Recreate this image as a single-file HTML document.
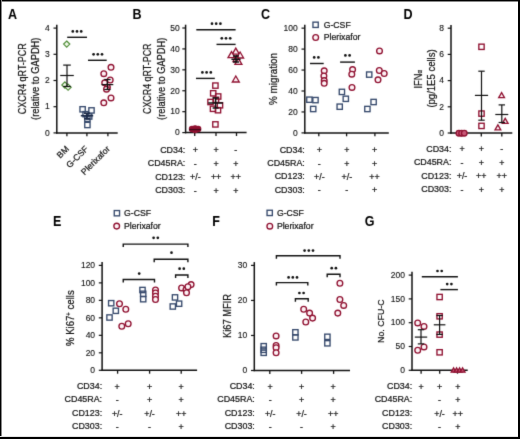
<!DOCTYPE html>
<html><head><meta charset="utf-8"><style>
html,body{margin:0;padding:0;background:#fff;}
svg{display:block;font-family:"Liberation Sans", sans-serif;will-change:transform;}
</style></head><body>
<svg width="520" height="439" viewBox="0 0 520 439">
<defs><filter id="soft" x="0" y="0" width="520" height="439" filterUnits="userSpaceOnUse" color-interpolation-filters="sRGB"><feConvolveMatrix order="3" kernelMatrix="0.01134 0.08382 0.01134 0.08382 0.61935 0.08382 0.01134 0.08382 0.01134" edgeMode="none"/></filter></defs>
<rect x="0" y="0" width="520" height="439" fill="#fff"/>
<g filter="url(#soft)">
<text transform="translate(7.89,18.70) scale(0.86,1)" font-size="14.6" font-weight="bold" fill="#000">A</text>
<line x1="56.80" y1="24.80" x2="56.80" y2="133.60" stroke="#111" stroke-width="1.5"/>
<line x1="53.50" y1="132.90" x2="56.80" y2="132.90" stroke="#111" stroke-width="1.2"/>
<text transform="translate(49.80,135.65) scale(1,1.0)" font-size="8.5" text-anchor="end" font-weight="normal" fill="#111" stroke="#111" stroke-width="0.12" >0</text>
<line x1="53.50" y1="106.70" x2="56.80" y2="106.70" stroke="#111" stroke-width="1.2"/>
<text transform="translate(49.80,109.45) scale(1,1.0)" font-size="8.5" text-anchor="end" font-weight="normal" fill="#111" stroke="#111" stroke-width="0.12" >1</text>
<line x1="53.50" y1="80.50" x2="56.80" y2="80.50" stroke="#111" stroke-width="1.2"/>
<text transform="translate(49.80,83.25) scale(1,1.0)" font-size="8.5" text-anchor="end" font-weight="normal" fill="#111" stroke="#111" stroke-width="0.12" >2</text>
<line x1="53.50" y1="54.30" x2="56.80" y2="54.30" stroke="#111" stroke-width="1.2"/>
<text transform="translate(49.80,57.05) scale(1,1.0)" font-size="8.5" text-anchor="end" font-weight="normal" fill="#111" stroke="#111" stroke-width="0.12" >3</text>
<line x1="53.50" y1="28.10" x2="56.80" y2="28.10" stroke="#111" stroke-width="1.2"/>
<text transform="translate(49.80,30.85) scale(1,1.0)" font-size="8.5" text-anchor="end" font-weight="normal" fill="#111" stroke="#111" stroke-width="0.12" >4</text>
<line x1="56.10" y1="132.90" x2="117.70" y2="132.90" stroke="#111" stroke-width="1.5"/>
<line x1="66.90" y1="132.90" x2="66.90" y2="136.30" stroke="#111" stroke-width="1.3"/>
<line x1="86.90" y1="132.90" x2="86.90" y2="136.30" stroke="#111" stroke-width="1.3"/>
<line x1="107.90" y1="132.90" x2="107.90" y2="136.30" stroke="#111" stroke-width="1.3"/>
<text transform="translate(26.20,114.25) scale(1,0.8790) rotate(-90)" font-size="10.2" fill="#111" stroke="#111" stroke-width="0.22">CXCR4 qRT-PCR</text>
<text transform="translate(39.00,119.88) scale(1,0.9331) rotate(-90)" font-size="10.0" fill="#111" stroke="#111" stroke-width="0.22">(relative to GAPDH)</text>
<text x="0" y="0" font-size="8.7" text-anchor="end" fill="#111" stroke="#111" stroke-width="0.22" transform="translate(69.5,149.5) rotate(-45)">BM</text>
<text x="0" y="0" font-size="8.7" text-anchor="end" fill="#111" stroke="#111" stroke-width="0.22" transform="translate(88.8,149.5) rotate(-45)">G-CSF</text>
<text x="0" y="0" font-size="8.7" text-anchor="end" fill="#111" stroke="#111" stroke-width="0.22" transform="translate(110.5,149.5) rotate(-45)">Plerixafor</text>
<line x1="67.20" y1="37.30" x2="87.00" y2="37.30" stroke="#111" stroke-width="1.4"/>
<circle cx="72.80" cy="31.40" r="1.35" fill="#111"/>
<circle cx="77.00" cy="31.40" r="1.35" fill="#111"/>
<circle cx="81.20" cy="31.40" r="1.35" fill="#111"/>
<line x1="88.00" y1="60.30" x2="106.70" y2="60.30" stroke="#111" stroke-width="1.4"/>
<circle cx="93.60" cy="54.30" r="1.35" fill="#111"/>
<circle cx="97.80" cy="54.30" r="1.35" fill="#111"/>
<circle cx="102.00" cy="54.30" r="1.35" fill="#111"/>
<polygon points="66.7,41.0 69.8,44.1 66.7,47.2 63.6,44.1" fill="#eef8e6" stroke="#4f8c38" stroke-width="1.15"/>
<polygon points="64.9,81.9 68.0,85.0 64.9,88.1 61.800000000000004,85.0" fill="#eef8e6" stroke="#4f8c38" stroke-width="1.15"/>
<polygon points="68.1,84.10000000000001 71.19999999999999,87.2 68.1,90.3 65.0,87.2" fill="#eef8e6" stroke="#4f8c38" stroke-width="1.15"/>
<line x1="60.20" y1="75.50" x2="73.80" y2="75.50" stroke="#111" stroke-width="1.2"/>
<line x1="67.00" y1="65.10" x2="67.00" y2="86.50" stroke="#111" stroke-width="1.2"/>
<line x1="63.20" y1="65.10" x2="70.80" y2="65.10" stroke="#111" stroke-width="1.2"/>
<line x1="63.20" y1="86.50" x2="70.80" y2="86.50" stroke="#111" stroke-width="1.2"/>
<rect x="79.95" y="106.65" width="5.3" height="5.3" fill="none" stroke="#36496c" stroke-width="1.35"/>
<rect x="88.85" y="107.75" width="5.3" height="5.3" fill="none" stroke="#36496c" stroke-width="1.35"/>
<rect x="82.95" y="111.55" width="5.3" height="5.3" fill="none" stroke="#36496c" stroke-width="1.35"/>
<rect x="86.55" y="113.85" width="5.3" height="5.3" fill="none" stroke="#36496c" stroke-width="1.35"/>
<rect x="84.75" y="116.15" width="5.3" height="5.3" fill="none" stroke="#36496c" stroke-width="1.35"/>
<rect x="84.75" y="122.35" width="5.3" height="5.3" fill="none" stroke="#36496c" stroke-width="1.35"/>
<line x1="80.80" y1="115.70" x2="93.20" y2="115.70" stroke="#1c2a48" stroke-width="1.6"/>
<line x1="87.00" y1="113.20" x2="87.00" y2="118.80" stroke="#1c2a48" stroke-width="1.6"/>
<line x1="84.00" y1="113.20" x2="90.00" y2="113.20" stroke="#1c2a48" stroke-width="1.6"/>
<line x1="84.00" y1="118.80" x2="90.00" y2="118.80" stroke="#1c2a48" stroke-width="1.6"/>
<circle cx="111" cy="67.3" r="2.85" fill="#fdf2f5" stroke="#8f1030" stroke-width="1.35"/>
<circle cx="103.8" cy="73.7" r="2.85" fill="#fdf2f5" stroke="#8f1030" stroke-width="1.35"/>
<circle cx="110.2" cy="80.0" r="2.85" fill="#fdf2f5" stroke="#8f1030" stroke-width="1.35"/>
<circle cx="104.7" cy="82.8" r="2.85" fill="#fdf2f5" stroke="#8f1030" stroke-width="1.35"/>
<circle cx="107.4" cy="87.3" r="2.85" fill="#fdf2f5" stroke="#8f1030" stroke-width="1.35"/>
<circle cx="106.5" cy="89.2" r="2.85" fill="#fdf2f5" stroke="#8f1030" stroke-width="1.35"/>
<circle cx="111" cy="97.9" r="2.85" fill="#fdf2f5" stroke="#8f1030" stroke-width="1.35"/>
<circle cx="103.8" cy="102.8" r="2.85" fill="#fdf2f5" stroke="#8f1030" stroke-width="1.35"/>
<line x1="101.50" y1="84.60" x2="113.30" y2="84.60" stroke="#111" stroke-width="1.2"/>
<line x1="107.40" y1="79.50" x2="107.40" y2="89.50" stroke="#111" stroke-width="1.2"/>
<line x1="104.20" y1="79.50" x2="110.60" y2="79.50" stroke="#111" stroke-width="1.2"/>
<line x1="104.20" y1="89.50" x2="110.60" y2="89.50" stroke="#111" stroke-width="1.2"/>
<text transform="translate(132.45,18.70) scale(0.86,1)" font-size="14.6" font-weight="bold" fill="#000">B</text>
<line x1="185.60" y1="24.70" x2="185.60" y2="133.30" stroke="#111" stroke-width="1.5"/>
<line x1="182.30" y1="132.60" x2="185.60" y2="132.60" stroke="#111" stroke-width="1.2"/>
<text transform="translate(179.80,135.35) scale(1,1.0)" font-size="8.5" text-anchor="end" font-weight="normal" fill="#111" stroke="#111" stroke-width="0.12" >0</text>
<line x1="182.30" y1="111.68" x2="185.60" y2="111.68" stroke="#111" stroke-width="1.2"/>
<text transform="translate(179.80,114.43) scale(1,1.0)" font-size="8.5" text-anchor="end" font-weight="normal" fill="#111" stroke="#111" stroke-width="0.12" >10</text>
<line x1="182.30" y1="90.76" x2="185.60" y2="90.76" stroke="#111" stroke-width="1.2"/>
<text transform="translate(179.80,93.51) scale(1,1.0)" font-size="8.5" text-anchor="end" font-weight="normal" fill="#111" stroke="#111" stroke-width="0.12" >20</text>
<line x1="182.30" y1="69.84" x2="185.60" y2="69.84" stroke="#111" stroke-width="1.2"/>
<text transform="translate(179.80,72.59) scale(1,1.0)" font-size="8.5" text-anchor="end" font-weight="normal" fill="#111" stroke="#111" stroke-width="0.12" >30</text>
<line x1="182.30" y1="48.92" x2="185.60" y2="48.92" stroke="#111" stroke-width="1.2"/>
<text transform="translate(179.80,51.67) scale(1,1.0)" font-size="8.5" text-anchor="end" font-weight="normal" fill="#111" stroke="#111" stroke-width="0.12" >40</text>
<line x1="182.30" y1="28.00" x2="185.60" y2="28.00" stroke="#111" stroke-width="1.2"/>
<text transform="translate(179.80,30.75) scale(1,1.0)" font-size="8.5" text-anchor="end" font-weight="normal" fill="#111" stroke="#111" stroke-width="0.12" >50</text>
<line x1="184.90" y1="132.60" x2="246.60" y2="132.60" stroke="#111" stroke-width="1.5"/>
<line x1="194.70" y1="132.60" x2="194.70" y2="136.00" stroke="#111" stroke-width="1.3"/>
<line x1="216.00" y1="132.60" x2="216.00" y2="136.00" stroke="#111" stroke-width="1.3"/>
<line x1="236.50" y1="132.60" x2="236.50" y2="136.00" stroke="#111" stroke-width="1.3"/>
<text transform="translate(150.60,114.05) scale(1,0.8740) rotate(-90)" font-size="10.2" fill="#111" stroke="#111" stroke-width="0.22">CXCR4 qRT-PCR</text>
<text transform="translate(164.50,119.88) scale(1,0.9308) rotate(-90)" font-size="10.0" fill="#111" stroke="#111" stroke-width="0.22">(relative to GAPDH)</text>
<line x1="196.30" y1="29.80" x2="235.60" y2="29.80" stroke="#111" stroke-width="1.4"/>
<circle cx="212.00" cy="23.70" r="1.35" fill="#111"/>
<circle cx="216.20" cy="23.70" r="1.35" fill="#111"/>
<circle cx="220.40" cy="23.70" r="1.35" fill="#111"/>
<line x1="216.50" y1="44.40" x2="235.60" y2="44.40" stroke="#111" stroke-width="1.4"/>
<circle cx="221.80" cy="38.30" r="1.35" fill="#111"/>
<circle cx="226.00" cy="38.30" r="1.35" fill="#111"/>
<circle cx="230.20" cy="38.30" r="1.35" fill="#111"/>
<line x1="196.00" y1="78.40" x2="214.80" y2="78.40" stroke="#111" stroke-width="1.4"/>
<circle cx="202.40" cy="72.40" r="1.35" fill="#111"/>
<circle cx="206.60" cy="72.40" r="1.35" fill="#111"/>
<circle cx="210.80" cy="72.40" r="1.35" fill="#111"/>
<circle cx="192.0" cy="129.0" r="2.6" fill="#8f1030" stroke="#8f1030" stroke-width="1.2"/>
<circle cx="198.2" cy="129.0" r="2.6" fill="#8f1030" stroke="#8f1030" stroke-width="1.2"/>
<circle cx="195.1" cy="128.4" r="2.6" fill="#8f1030" stroke="#8f1030" stroke-width="1.2"/>
<circle cx="195.1" cy="130.0" r="2.6" fill="#8f1030" stroke="#8f1030" stroke-width="1.2"/>
<line x1="189.00" y1="129.60" x2="201.00" y2="129.60" stroke="#400818" stroke-width="1.3"/>
<rect x="212.75" y="82.95" width="5.3" height="5.3" fill="none" stroke="#8f1030" stroke-width="1.35"/>
<rect x="210.55" y="90.65" width="5.3" height="5.3" fill="none" stroke="#8f1030" stroke-width="1.35"/>
<rect x="215.55" y="93.85" width="5.3" height="5.3" fill="none" stroke="#8f1030" stroke-width="1.35"/>
<rect x="213.35" y="97.15" width="5.3" height="5.3" fill="none" stroke="#8f1030" stroke-width="1.35"/>
<rect x="207.85" y="99.35" width="5.3" height="5.3" fill="none" stroke="#8f1030" stroke-width="1.35"/>
<rect x="217.35" y="102.65" width="5.3" height="5.3" fill="none" stroke="#8f1030" stroke-width="1.35"/>
<rect x="210.35" y="106.15" width="5.3" height="5.3" fill="none" stroke="#8f1030" stroke-width="1.35"/>
<rect x="215.35" y="107.55" width="5.3" height="5.3" fill="none" stroke="#8f1030" stroke-width="1.35"/>
<rect x="212.75" y="121.75" width="5.3" height="5.3" fill="none" stroke="#8f1030" stroke-width="1.35"/>
<line x1="208.20" y1="103.00" x2="223.00" y2="103.00" stroke="#111" stroke-width="1.5"/>
<line x1="215.60" y1="98.00" x2="215.60" y2="108.00" stroke="#111" stroke-width="1.5"/>
<line x1="212.60" y1="98.00" x2="218.60" y2="98.00" stroke="#111" stroke-width="1.5"/>
<line x1="212.60" y1="108.00" x2="218.60" y2="108.00" stroke="#111" stroke-width="1.5"/>
<polygon points="235.80,48.16 239.30,54.22 232.30,54.22" fill="#fdf2f5" stroke="#8f1030" stroke-width="1.3" stroke-linejoin="miter"/>
<polygon points="231.50,51.56 235.00,57.62 228.00,57.62" fill="#fdf2f5" stroke="#8f1030" stroke-width="1.3" stroke-linejoin="miter"/>
<polygon points="240.10,51.96 243.60,58.02 236.60,58.02" fill="#fdf2f5" stroke="#8f1030" stroke-width="1.3" stroke-linejoin="miter"/>
<polygon points="236.50,55.66 240.00,61.72 233.00,61.72" fill="#fdf2f5" stroke="#8f1030" stroke-width="1.3" stroke-linejoin="miter"/>
<polygon points="238.40,58.36 241.90,64.42 234.90,64.42" fill="#fdf2f5" stroke="#8f1030" stroke-width="1.3" stroke-linejoin="miter"/>
<polygon points="235.80,75.96 239.30,82.02 232.30,82.02" fill="#fdf2f5" stroke="#8f1030" stroke-width="1.3" stroke-linejoin="miter"/>
<line x1="231.40" y1="59.30" x2="240.60" y2="59.30" stroke="#111" stroke-width="1.5"/>
<line x1="236.00" y1="56.00" x2="236.00" y2="62.00" stroke="#111" stroke-width="1.5"/>
<line x1="233.00" y1="56.00" x2="239.00" y2="56.00" stroke="#111" stroke-width="1.5"/>
<line x1="233.00" y1="62.00" x2="239.00" y2="62.00" stroke="#111" stroke-width="1.5"/>
<text transform="translate(185.30,152.60) scale(1,1.0)" font-size="8.9" text-anchor="end" font-weight="normal" fill="#111" stroke="#111" stroke-width="0.22" >CD34:</text>
<text transform="translate(195.30,153.30) scale(1,1.0)" font-size="8.9" text-anchor="middle" font-weight="normal" fill="#111" stroke="#111" stroke-width="0.22" >+</text>
<text transform="translate(216.10,153.30) scale(1,1.0)" font-size="8.9" text-anchor="middle" font-weight="normal" fill="#111" stroke="#111" stroke-width="0.22" >+</text>
<text transform="translate(235.80,153.30) scale(1,1.0)" font-size="8.9" text-anchor="middle" font-weight="normal" fill="#111" stroke="#111" stroke-width="0.22" >-</text>
<text transform="translate(185.30,166.20) scale(1,1.0)" font-size="8.9" text-anchor="end" font-weight="normal" fill="#111" stroke="#111" stroke-width="0.22" >CD45RA:</text>
<text transform="translate(195.30,166.90) scale(1,1.0)" font-size="8.9" text-anchor="middle" font-weight="normal" fill="#111" stroke="#111" stroke-width="0.22" >-</text>
<text transform="translate(216.10,166.90) scale(1,1.0)" font-size="8.9" text-anchor="middle" font-weight="normal" fill="#111" stroke="#111" stroke-width="0.22" >+</text>
<text transform="translate(235.80,166.90) scale(1,1.0)" font-size="8.9" text-anchor="middle" font-weight="normal" fill="#111" stroke="#111" stroke-width="0.22" >+</text>
<text transform="translate(185.30,179.60) scale(1,1.0)" font-size="8.9" text-anchor="end" font-weight="normal" fill="#111" stroke="#111" stroke-width="0.22" >CD123:</text>
<text transform="translate(195.30,180.30) scale(1,1.0)" font-size="8.9" text-anchor="middle" font-weight="normal" fill="#111" stroke="#111" stroke-width="0.22" >+/-</text>
<text transform="translate(216.10,180.30) scale(1,1.0)" font-size="8.9" text-anchor="middle" font-weight="normal" fill="#111" stroke="#111" stroke-width="0.22" >++</text>
<text transform="translate(235.80,180.30) scale(1,1.0)" font-size="8.9" text-anchor="middle" font-weight="normal" fill="#111" stroke="#111" stroke-width="0.22" >++</text>
<text transform="translate(185.30,192.80) scale(1,1.0)" font-size="8.9" text-anchor="end" font-weight="normal" fill="#111" stroke="#111" stroke-width="0.22" >CD303:</text>
<text transform="translate(195.30,193.50) scale(1,1.0)" font-size="8.9" text-anchor="middle" font-weight="normal" fill="#111" stroke="#111" stroke-width="0.22" >-</text>
<text transform="translate(216.10,193.50) scale(1,1.0)" font-size="8.9" text-anchor="middle" font-weight="normal" fill="#111" stroke="#111" stroke-width="0.22" >+</text>
<text transform="translate(235.80,193.50) scale(1,1.0)" font-size="8.9" text-anchor="middle" font-weight="normal" fill="#111" stroke="#111" stroke-width="0.22" >+</text>
<text transform="translate(261.10,18.70) scale(0.86,1)" font-size="14.6" font-weight="bold" fill="#000">C</text>
<line x1="304.80" y1="24.85" x2="304.80" y2="133.60" stroke="#111" stroke-width="1.5"/>
<line x1="301.50" y1="132.90" x2="304.80" y2="132.90" stroke="#111" stroke-width="1.2"/>
<text transform="translate(297.80,135.65) scale(1,1.0)" font-size="8.5" text-anchor="end" font-weight="normal" fill="#111" stroke="#111" stroke-width="0.12" >0</text>
<line x1="301.50" y1="111.95" x2="304.80" y2="111.95" stroke="#111" stroke-width="1.2"/>
<text transform="translate(297.80,114.70) scale(1,1.0)" font-size="8.5" text-anchor="end" font-weight="normal" fill="#111" stroke="#111" stroke-width="0.12" >20</text>
<line x1="301.50" y1="91.00" x2="304.80" y2="91.00" stroke="#111" stroke-width="1.2"/>
<text transform="translate(297.80,93.75) scale(1,1.0)" font-size="8.5" text-anchor="end" font-weight="normal" fill="#111" stroke="#111" stroke-width="0.12" >40</text>
<line x1="301.50" y1="70.05" x2="304.80" y2="70.05" stroke="#111" stroke-width="1.2"/>
<text transform="translate(297.80,72.80) scale(1,1.0)" font-size="8.5" text-anchor="end" font-weight="normal" fill="#111" stroke="#111" stroke-width="0.12" >60</text>
<line x1="301.50" y1="49.10" x2="304.80" y2="49.10" stroke="#111" stroke-width="1.2"/>
<text transform="translate(297.80,51.85) scale(1,1.0)" font-size="8.5" text-anchor="end" font-weight="normal" fill="#111" stroke="#111" stroke-width="0.12" >80</text>
<line x1="301.50" y1="28.15" x2="304.80" y2="28.15" stroke="#111" stroke-width="1.2"/>
<text transform="translate(297.80,30.90) scale(1,1.0)" font-size="8.5" text-anchor="end" font-weight="normal" fill="#111" stroke="#111" stroke-width="0.12" >100</text>
<line x1="304.10" y1="132.90" x2="388.80" y2="132.90" stroke="#111" stroke-width="1.5"/>
<line x1="318.80" y1="132.90" x2="318.80" y2="136.30" stroke="#111" stroke-width="1.3"/>
<line x1="346.60" y1="132.90" x2="346.60" y2="136.30" stroke="#111" stroke-width="1.3"/>
<line x1="374.90" y1="132.90" x2="374.90" y2="136.30" stroke="#111" stroke-width="1.3"/>
<text transform="translate(277.20,104.95) scale(1,0.9667) rotate(-90)" font-size="10.2" fill="#111" stroke="#111" stroke-width="0.22">% migration</text>
<rect x="312.95" y="22.15" width="5.3" height="5.3" fill="none" stroke="#36496c" stroke-width="1.35"/>
<text transform="translate(323.70,27.80) scale(1,1.0)" font-size="8.7" text-anchor="start" font-weight="normal" fill="#111" stroke="#111" stroke-width="0.22" >G-CSF</text>
<circle cx="315.7" cy="37.5" r="2.85" fill="#fdf2f5" stroke="#8f1030" stroke-width="1.35"/>
<text transform="translate(323.70,39.80) scale(1,1.0)" font-size="8.7" text-anchor="start" font-weight="normal" fill="#111" stroke="#111" stroke-width="0.22" >Plerixafor</text>
<line x1="310.00" y1="63.50" x2="323.70" y2="63.50" stroke="#111" stroke-width="1.4"/>
<circle cx="314.20" cy="57.40" r="1.35" fill="#111"/>
<circle cx="318.40" cy="57.40" r="1.35" fill="#111"/>
<line x1="340.10" y1="62.10" x2="354.90" y2="62.10" stroke="#111" stroke-width="1.4"/>
<circle cx="345.40" cy="55.40" r="1.35" fill="#111"/>
<circle cx="349.60" cy="55.40" r="1.35" fill="#111"/>
<rect x="306.75" y="97.05" width="5.3" height="5.3" fill="none" stroke="#36496c" stroke-width="1.35"/>
<rect x="312.85" y="97.45" width="5.3" height="5.3" fill="none" stroke="#36496c" stroke-width="1.35"/>
<rect x="310.55" y="106.35" width="5.3" height="5.3" fill="none" stroke="#36496c" stroke-width="1.35"/>
<circle cx="324.2" cy="70.8" r="2.85" fill="#fdf2f5" stroke="#8f1030" stroke-width="1.35"/>
<circle cx="323.9" cy="76" r="2.85" fill="#fdf2f5" stroke="#8f1030" stroke-width="1.35"/>
<circle cx="324.2" cy="80.6" r="2.85" fill="#fdf2f5" stroke="#8f1030" stroke-width="1.35"/>
<circle cx="324.2" cy="83.3" r="2.85" fill="#fdf2f5" stroke="#8f1030" stroke-width="1.35"/>
<rect x="339.25" y="89.25" width="5.3" height="5.3" fill="none" stroke="#36496c" stroke-width="1.35"/>
<rect x="343.15" y="96.15" width="5.3" height="5.3" fill="none" stroke="#36496c" stroke-width="1.35"/>
<rect x="337.05" y="104.05" width="5.3" height="5.3" fill="none" stroke="#36496c" stroke-width="1.35"/>
<circle cx="352.6" cy="69.6" r="2.85" fill="#fdf2f5" stroke="#8f1030" stroke-width="1.35"/>
<circle cx="351.8" cy="74.2" r="2.85" fill="#fdf2f5" stroke="#8f1030" stroke-width="1.35"/>
<circle cx="352" cy="87.4" r="2.85" fill="#fdf2f5" stroke="#8f1030" stroke-width="1.35"/>
<rect x="366.55" y="71.95" width="5.3" height="5.3" fill="none" stroke="#36496c" stroke-width="1.35"/>
<rect x="370.95" y="99.35" width="5.3" height="5.3" fill="none" stroke="#36496c" stroke-width="1.35"/>
<rect x="364.75" y="106.35" width="5.3" height="5.3" fill="none" stroke="#36496c" stroke-width="1.35"/>
<circle cx="379.5" cy="50.9" r="2.85" fill="#fdf2f5" stroke="#8f1030" stroke-width="1.35"/>
<circle cx="379.3" cy="70.5" r="2.85" fill="#fdf2f5" stroke="#8f1030" stroke-width="1.35"/>
<circle cx="384.2" cy="73.5" r="2.85" fill="#fdf2f5" stroke="#8f1030" stroke-width="1.35"/>
<circle cx="378" cy="79.8" r="2.85" fill="#fdf2f5" stroke="#8f1030" stroke-width="1.35"/>
<text transform="translate(304.80,152.60) scale(1,1.0)" font-size="8.9" text-anchor="end" font-weight="normal" fill="#111" stroke="#111" stroke-width="0.22" >CD34:</text>
<text transform="translate(319.30,153.30) scale(1,1.0)" font-size="8.9" text-anchor="middle" font-weight="normal" fill="#111" stroke="#111" stroke-width="0.22" >+</text>
<text transform="translate(346.80,153.30) scale(1,1.0)" font-size="8.9" text-anchor="middle" font-weight="normal" fill="#111" stroke="#111" stroke-width="0.22" >+</text>
<text transform="translate(374.50,153.30) scale(1,1.0)" font-size="8.9" text-anchor="middle" font-weight="normal" fill="#111" stroke="#111" stroke-width="0.22" >+</text>
<text transform="translate(304.80,166.20) scale(1,1.0)" font-size="8.9" text-anchor="end" font-weight="normal" fill="#111" stroke="#111" stroke-width="0.22" >CD45RA:</text>
<text transform="translate(319.30,166.90) scale(1,1.0)" font-size="8.9" text-anchor="middle" font-weight="normal" fill="#111" stroke="#111" stroke-width="0.22" >-</text>
<text transform="translate(346.80,166.90) scale(1,1.0)" font-size="8.9" text-anchor="middle" font-weight="normal" fill="#111" stroke="#111" stroke-width="0.22" >+</text>
<text transform="translate(374.50,166.90) scale(1,1.0)" font-size="8.9" text-anchor="middle" font-weight="normal" fill="#111" stroke="#111" stroke-width="0.22" >+</text>
<text transform="translate(304.80,179.40) scale(1,1.0)" font-size="8.9" text-anchor="end" font-weight="normal" fill="#111" stroke="#111" stroke-width="0.22" >CD123:</text>
<text transform="translate(319.30,180.10) scale(1,1.0)" font-size="8.9" text-anchor="middle" font-weight="normal" fill="#111" stroke="#111" stroke-width="0.22" >+/-</text>
<text transform="translate(346.80,180.10) scale(1,1.0)" font-size="8.9" text-anchor="middle" font-weight="normal" fill="#111" stroke="#111" stroke-width="0.22" >+/-</text>
<text transform="translate(374.50,180.10) scale(1,1.0)" font-size="8.9" text-anchor="middle" font-weight="normal" fill="#111" stroke="#111" stroke-width="0.22" >++</text>
<text transform="translate(304.80,192.60) scale(1,1.0)" font-size="8.9" text-anchor="end" font-weight="normal" fill="#111" stroke="#111" stroke-width="0.22" >CD303:</text>
<text transform="translate(319.30,193.30) scale(1,1.0)" font-size="8.9" text-anchor="middle" font-weight="normal" fill="#111" stroke="#111" stroke-width="0.22" >-</text>
<text transform="translate(346.80,193.30) scale(1,1.0)" font-size="8.9" text-anchor="middle" font-weight="normal" fill="#111" stroke="#111" stroke-width="0.22" >-</text>
<text transform="translate(374.50,193.30) scale(1,1.0)" font-size="8.9" text-anchor="middle" font-weight="normal" fill="#111" stroke="#111" stroke-width="0.22" >+</text>
<text transform="translate(403.45,18.70) scale(0.86,1)" font-size="14.6" font-weight="bold" fill="#000">D</text>
<line x1="451.00" y1="24.90" x2="451.00" y2="133.70" stroke="#111" stroke-width="1.5"/>
<line x1="447.70" y1="133.00" x2="451.00" y2="133.00" stroke="#111" stroke-width="1.2"/>
<text transform="translate(444.00,135.75) scale(1,1.0)" font-size="8.5" text-anchor="end" font-weight="normal" fill="#111" stroke="#111" stroke-width="0.12" >0</text>
<line x1="447.70" y1="106.80" x2="451.00" y2="106.80" stroke="#111" stroke-width="1.2"/>
<text transform="translate(444.00,109.55) scale(1,1.0)" font-size="8.5" text-anchor="end" font-weight="normal" fill="#111" stroke="#111" stroke-width="0.12" >2</text>
<line x1="447.70" y1="80.60" x2="451.00" y2="80.60" stroke="#111" stroke-width="1.2"/>
<text transform="translate(444.00,83.35) scale(1,1.0)" font-size="8.5" text-anchor="end" font-weight="normal" fill="#111" stroke="#111" stroke-width="0.12" >4</text>
<line x1="447.70" y1="54.40" x2="451.00" y2="54.40" stroke="#111" stroke-width="1.2"/>
<text transform="translate(444.00,57.15) scale(1,1.0)" font-size="8.5" text-anchor="end" font-weight="normal" fill="#111" stroke="#111" stroke-width="0.12" >6</text>
<line x1="447.70" y1="28.20" x2="451.00" y2="28.20" stroke="#111" stroke-width="1.2"/>
<text transform="translate(444.00,30.95) scale(1,1.0)" font-size="8.5" text-anchor="end" font-weight="normal" fill="#111" stroke="#111" stroke-width="0.12" >8</text>
<line x1="450.30" y1="133.00" x2="512.30" y2="133.00" stroke="#111" stroke-width="1.5"/>
<line x1="461.50" y1="133.00" x2="461.50" y2="136.40" stroke="#111" stroke-width="1.3"/>
<line x1="481.30" y1="133.00" x2="481.30" y2="136.40" stroke="#111" stroke-width="1.3"/>
<line x1="501.80" y1="133.00" x2="501.80" y2="136.40" stroke="#111" stroke-width="1.3"/>
<text transform="translate(421.80,88.46) scale(1,0.8582) rotate(-90)" font-size="10.8" fill="#111" stroke="#111" stroke-width="0.22">IFN<tspan font-size="7" dy="0.6">α</tspan></text>
<text transform="translate(434.60,107.60) scale(1,0.9346) rotate(-90)" font-size="10.2" fill="#111" stroke="#111" stroke-width="0.22">(pg/1E5 cells)</text>
<circle cx="458.9" cy="133.2" r="2.8" fill="#c85878" stroke="#8f1030" stroke-width="1.3"/>
<circle cx="461.6" cy="133.2" r="2.8" fill="#c85878" stroke="#8f1030" stroke-width="1.3"/>
<circle cx="464.3" cy="133.2" r="2.8" fill="#c85878" stroke="#8f1030" stroke-width="1.3"/>
<rect x="478.85" y="44.15" width="5.3" height="5.3" fill="none" stroke="#8f1030" stroke-width="1.35"/>
<rect x="478.85" y="110.95" width="5.3" height="5.3" fill="none" stroke="#8f1030" stroke-width="1.35"/>
<rect x="478.85" y="123.25" width="5.3" height="5.3" fill="none" stroke="#8f1030" stroke-width="1.35"/>
<line x1="474.90" y1="95.40" x2="488.10" y2="95.40" stroke="#111" stroke-width="1.2"/>
<line x1="481.50" y1="71.20" x2="481.50" y2="120.20" stroke="#111" stroke-width="1.2"/>
<line x1="478.30" y1="71.20" x2="484.70" y2="71.20" stroke="#111" stroke-width="1.2"/>
<line x1="478.30" y1="120.20" x2="484.70" y2="120.20" stroke="#111" stroke-width="1.2"/>
<polygon points="501.60,92.59 504.50,97.61 498.70,97.61" fill="#fdf2f5" stroke="#8f1030" stroke-width="1.3" stroke-linejoin="miter"/>
<polygon points="505.20,118.39 508.10,123.41 502.30,123.41" fill="#fdf2f5" stroke="#8f1030" stroke-width="1.3" stroke-linejoin="miter"/>
<polygon points="497.90,124.89 500.80,129.91 495.00,129.91" fill="#fdf2f5" stroke="#8f1030" stroke-width="1.3" stroke-linejoin="miter"/>
<line x1="495.30" y1="114.50" x2="508.30" y2="114.50" stroke="#111" stroke-width="1.2"/>
<line x1="501.80" y1="104.90" x2="501.80" y2="122.50" stroke="#111" stroke-width="1.2"/>
<line x1="498.60" y1="104.90" x2="505.00" y2="104.90" stroke="#111" stroke-width="1.2"/>
<line x1="498.60" y1="122.50" x2="505.00" y2="122.50" stroke="#111" stroke-width="1.2"/>
<text transform="translate(451.40,151.60) scale(1,1.0)" font-size="8.9" text-anchor="end" font-weight="normal" fill="#111" stroke="#111" stroke-width="0.22" >CD34:</text>
<text transform="translate(462.00,152.30) scale(1,1.0)" font-size="8.9" text-anchor="middle" font-weight="normal" fill="#111" stroke="#111" stroke-width="0.22" >+</text>
<text transform="translate(481.30,152.30) scale(1,1.0)" font-size="8.9" text-anchor="middle" font-weight="normal" fill="#111" stroke="#111" stroke-width="0.22" >+</text>
<text transform="translate(501.80,152.30) scale(1,1.0)" font-size="8.9" text-anchor="middle" font-weight="normal" fill="#111" stroke="#111" stroke-width="0.22" >-</text>
<text transform="translate(451.40,165.10) scale(1,1.0)" font-size="8.9" text-anchor="end" font-weight="normal" fill="#111" stroke="#111" stroke-width="0.22" >CD45RA:</text>
<text transform="translate(462.00,165.80) scale(1,1.0)" font-size="8.9" text-anchor="middle" font-weight="normal" fill="#111" stroke="#111" stroke-width="0.22" >-</text>
<text transform="translate(481.30,165.80) scale(1,1.0)" font-size="8.9" text-anchor="middle" font-weight="normal" fill="#111" stroke="#111" stroke-width="0.22" >+</text>
<text transform="translate(501.80,165.80) scale(1,1.0)" font-size="8.9" text-anchor="middle" font-weight="normal" fill="#111" stroke="#111" stroke-width="0.22" >+</text>
<text transform="translate(451.40,178.60) scale(1,1.0)" font-size="8.9" text-anchor="end" font-weight="normal" fill="#111" stroke="#111" stroke-width="0.22" >CD123:</text>
<text transform="translate(462.00,179.30) scale(1,1.0)" font-size="8.9" text-anchor="middle" font-weight="normal" fill="#111" stroke="#111" stroke-width="0.22" >+/-</text>
<text transform="translate(481.30,179.30) scale(1,1.0)" font-size="8.9" text-anchor="middle" font-weight="normal" fill="#111" stroke="#111" stroke-width="0.22" >++</text>
<text transform="translate(501.80,179.30) scale(1,1.0)" font-size="8.9" text-anchor="middle" font-weight="normal" fill="#111" stroke="#111" stroke-width="0.22" >++</text>
<text transform="translate(451.40,191.90) scale(1,1.0)" font-size="8.9" text-anchor="end" font-weight="normal" fill="#111" stroke="#111" stroke-width="0.22" >CD303:</text>
<text transform="translate(462.00,192.60) scale(1,1.0)" font-size="8.9" text-anchor="middle" font-weight="normal" fill="#111" stroke="#111" stroke-width="0.22" >-</text>
<text transform="translate(481.30,192.60) scale(1,1.0)" font-size="8.9" text-anchor="middle" font-weight="normal" fill="#111" stroke="#111" stroke-width="0.22" >+</text>
<text transform="translate(501.80,192.60) scale(1,1.0)" font-size="8.9" text-anchor="middle" font-weight="normal" fill="#111" stroke="#111" stroke-width="0.22" >+</text>
<text transform="translate(52.95,225.60) scale(0.86,1)" font-size="14.6" font-weight="bold" fill="#000">E</text>
<rect x="114.25" y="210.55" width="5.3" height="5.3" fill="none" stroke="#36496c" stroke-width="1.35"/>
<text transform="translate(124.00,216.20) scale(1,1.0)" font-size="8.7" text-anchor="start" font-weight="normal" fill="#111" stroke="#111" stroke-width="0.22" >G-CSF</text>
<circle cx="116.7" cy="226.1" r="2.85" fill="#fdf2f5" stroke="#8f1030" stroke-width="1.35"/>
<text transform="translate(124.00,228.60) scale(1,1.0)" font-size="8.7" text-anchor="start" font-weight="normal" fill="#111" stroke="#111" stroke-width="0.22" >Plerixafor</text>
<line x1="102.10" y1="262.10" x2="102.10" y2="371.00" stroke="#111" stroke-width="1.5"/>
<line x1="98.80" y1="370.30" x2="102.10" y2="370.30" stroke="#111" stroke-width="1.2"/>
<text transform="translate(95.10,373.05) scale(1,1.0)" font-size="8.5" text-anchor="end" font-weight="normal" fill="#111" stroke="#111" stroke-width="0.12" >0</text>
<line x1="98.80" y1="352.82" x2="102.10" y2="352.82" stroke="#111" stroke-width="1.2"/>
<text transform="translate(95.10,355.57) scale(1,1.0)" font-size="8.5" text-anchor="end" font-weight="normal" fill="#111" stroke="#111" stroke-width="0.12" >20</text>
<line x1="98.80" y1="335.33" x2="102.10" y2="335.33" stroke="#111" stroke-width="1.2"/>
<text transform="translate(95.10,338.08) scale(1,1.0)" font-size="8.5" text-anchor="end" font-weight="normal" fill="#111" stroke="#111" stroke-width="0.12" >40</text>
<line x1="98.80" y1="317.85" x2="102.10" y2="317.85" stroke="#111" stroke-width="1.2"/>
<text transform="translate(95.10,320.60) scale(1,1.0)" font-size="8.5" text-anchor="end" font-weight="normal" fill="#111" stroke="#111" stroke-width="0.12" >60</text>
<line x1="98.80" y1="300.36" x2="102.10" y2="300.36" stroke="#111" stroke-width="1.2"/>
<text transform="translate(95.10,303.11) scale(1,1.0)" font-size="8.5" text-anchor="end" font-weight="normal" fill="#111" stroke="#111" stroke-width="0.12" >80</text>
<line x1="98.80" y1="282.88" x2="102.10" y2="282.88" stroke="#111" stroke-width="1.2"/>
<text transform="translate(95.10,285.63) scale(1,1.0)" font-size="8.5" text-anchor="end" font-weight="normal" fill="#111" stroke="#111" stroke-width="0.12" >100</text>
<line x1="98.80" y1="265.40" x2="102.10" y2="265.40" stroke="#111" stroke-width="1.2"/>
<text transform="translate(95.10,268.15) scale(1,1.0)" font-size="8.5" text-anchor="end" font-weight="normal" fill="#111" stroke="#111" stroke-width="0.12" >120</text>
<line x1="101.40" y1="370.30" x2="197.10" y2="370.30" stroke="#111" stroke-width="1.5"/>
<line x1="117.60" y1="370.30" x2="117.60" y2="373.70" stroke="#111" stroke-width="1.3"/>
<line x1="149.60" y1="370.30" x2="149.60" y2="373.70" stroke="#111" stroke-width="1.3"/>
<line x1="181.20" y1="370.30" x2="181.20" y2="373.70" stroke="#111" stroke-width="1.3"/>
<text transform="translate(73.90,345.94) scale(1,0.9393) rotate(-90)" font-size="10.2" fill="#111" stroke="#111" stroke-width="0.22">% Ki67<tspan font-size="6.5" dy="-3.2">+</tspan><tspan dy="3.2"> cells</tspan></text>
<polyline points="123.25,247.1 123.25,244.1 187.9,244.1 187.9,247.1" fill="none" stroke="#111" stroke-width="1.4"/>
<circle cx="153.60" cy="237.80" r="1.35" fill="#111"/>
<circle cx="157.80" cy="237.80" r="1.35" fill="#111"/>
<polyline points="154.2,262.2 154.2,259.2 187.9,259.2 187.9,262.2" fill="none" stroke="#111" stroke-width="1.4"/>
<circle cx="171.50" cy="252.70" r="1.35" fill="#111"/>
<polyline points="123.25,282.5 123.25,279.5 154.5,279.5 154.5,282.5" fill="none" stroke="#111" stroke-width="1.4"/>
<circle cx="139.20" cy="273.60" r="1.35" fill="#111"/>
<polyline points="175.6,278.0 175.6,275.0 187.9,275.0 187.9,278.0" fill="none" stroke="#111" stroke-width="1.4"/>
<circle cx="179.60" cy="268.70" r="1.35" fill="#111"/>
<circle cx="183.80" cy="268.70" r="1.35" fill="#111"/>
<rect x="108.55" y="300.55" width="5.3" height="5.3" fill="none" stroke="#36496c" stroke-width="1.35"/>
<rect x="113.15" y="308.15" width="5.3" height="5.3" fill="none" stroke="#36496c" stroke-width="1.35"/>
<rect x="106.85" y="314.85" width="5.3" height="5.3" fill="none" stroke="#36496c" stroke-width="1.35"/>
<circle cx="119.5" cy="303.7" r="2.85" fill="#fdf2f5" stroke="#8f1030" stroke-width="1.35"/>
<circle cx="125.8" cy="309.3" r="2.85" fill="#fdf2f5" stroke="#8f1030" stroke-width="1.35"/>
<circle cx="121.8" cy="326.2" r="2.85" fill="#fdf2f5" stroke="#8f1030" stroke-width="1.35"/>
<circle cx="128.2" cy="323.7" r="2.85" fill="#fdf2f5" stroke="#8f1030" stroke-width="1.35"/>
<rect x="139.85" y="287.35" width="5.3" height="5.3" fill="none" stroke="#36496c" stroke-width="1.35"/>
<rect x="140.55" y="291.15" width="5.3" height="5.3" fill="none" stroke="#36496c" stroke-width="1.35"/>
<rect x="140.55" y="296.55" width="5.3" height="5.3" fill="none" stroke="#36496c" stroke-width="1.35"/>
<circle cx="155.5" cy="290" r="2.85" fill="#fdf2f5" stroke="#8f1030" stroke-width="1.35"/>
<circle cx="155.5" cy="293" r="2.85" fill="#fdf2f5" stroke="#8f1030" stroke-width="1.35"/>
<circle cx="155.5" cy="296.3" r="2.85" fill="#fdf2f5" stroke="#8f1030" stroke-width="1.35"/>
<circle cx="155.5" cy="299.5" r="2.85" fill="#fdf2f5" stroke="#8f1030" stroke-width="1.35"/>
<rect x="172.35" y="294.75" width="5.3" height="5.3" fill="none" stroke="#36496c" stroke-width="1.35"/>
<rect x="176.45" y="301.05" width="5.3" height="5.3" fill="none" stroke="#36496c" stroke-width="1.35"/>
<rect x="170.15" y="303.85" width="5.3" height="5.3" fill="none" stroke="#36496c" stroke-width="1.35"/>
<circle cx="181.6" cy="287.9" r="2.85" fill="#fdf2f5" stroke="#8f1030" stroke-width="1.35"/>
<circle cx="186" cy="289.8" r="2.85" fill="#fdf2f5" stroke="#8f1030" stroke-width="1.35"/>
<circle cx="191.1" cy="284.6" r="2.85" fill="#fdf2f5" stroke="#8f1030" stroke-width="1.35"/>
<circle cx="187.9" cy="286.8" r="2.85" fill="#fdf2f5" stroke="#8f1030" stroke-width="1.35"/>
<circle cx="186.5" cy="292.8" r="2.85" fill="#fdf2f5" stroke="#8f1030" stroke-width="1.35"/>
<text transform="translate(102.10,389.20) scale(1,1.0)" font-size="8.9" text-anchor="end" font-weight="normal" fill="#111" stroke="#111" stroke-width="0.22" >CD34:</text>
<text transform="translate(117.20,389.90) scale(1,1.0)" font-size="8.9" text-anchor="middle" font-weight="normal" fill="#111" stroke="#111" stroke-width="0.22" >+</text>
<text transform="translate(149.50,389.90) scale(1,1.0)" font-size="8.9" text-anchor="middle" font-weight="normal" fill="#111" stroke="#111" stroke-width="0.22" >+</text>
<text transform="translate(181.20,389.90) scale(1,1.0)" font-size="8.9" text-anchor="middle" font-weight="normal" fill="#111" stroke="#111" stroke-width="0.22" >+</text>
<text transform="translate(102.10,402.40) scale(1,1.0)" font-size="8.9" text-anchor="end" font-weight="normal" fill="#111" stroke="#111" stroke-width="0.22" >CD45RA:</text>
<text transform="translate(117.20,403.10) scale(1,1.0)" font-size="8.9" text-anchor="middle" font-weight="normal" fill="#111" stroke="#111" stroke-width="0.22" >-</text>
<text transform="translate(149.50,403.10) scale(1,1.0)" font-size="8.9" text-anchor="middle" font-weight="normal" fill="#111" stroke="#111" stroke-width="0.22" >+</text>
<text transform="translate(181.20,403.10) scale(1,1.0)" font-size="8.9" text-anchor="middle" font-weight="normal" fill="#111" stroke="#111" stroke-width="0.22" >+</text>
<text transform="translate(102.10,415.80) scale(1,1.0)" font-size="8.9" text-anchor="end" font-weight="normal" fill="#111" stroke="#111" stroke-width="0.22" >CD123:</text>
<text transform="translate(117.20,416.50) scale(1,1.0)" font-size="8.9" text-anchor="middle" font-weight="normal" fill="#111" stroke="#111" stroke-width="0.22" >+/-</text>
<text transform="translate(149.50,416.50) scale(1,1.0)" font-size="8.9" text-anchor="middle" font-weight="normal" fill="#111" stroke="#111" stroke-width="0.22" >+/-</text>
<text transform="translate(181.20,416.50) scale(1,1.0)" font-size="8.9" text-anchor="middle" font-weight="normal" fill="#111" stroke="#111" stroke-width="0.22" >++</text>
<text transform="translate(102.10,429.20) scale(1,1.0)" font-size="8.9" text-anchor="end" font-weight="normal" fill="#111" stroke="#111" stroke-width="0.22" >CD303:</text>
<text transform="translate(117.20,429.90) scale(1,1.0)" font-size="8.9" text-anchor="middle" font-weight="normal" fill="#111" stroke="#111" stroke-width="0.22" >-</text>
<text transform="translate(149.50,429.90) scale(1,1.0)" font-size="8.9" text-anchor="middle" font-weight="normal" fill="#111" stroke="#111" stroke-width="0.22" >-</text>
<text transform="translate(181.20,429.90) scale(1,1.0)" font-size="8.9" text-anchor="middle" font-weight="normal" fill="#111" stroke="#111" stroke-width="0.22" >+</text>
<text transform="translate(212.25,225.60) scale(0.86,1)" font-size="14.6" font-weight="bold" fill="#000">F</text>
<rect x="267.05" y="210.25" width="5.3" height="5.3" fill="none" stroke="#36496c" stroke-width="1.35"/>
<text transform="translate(276.90,216.10) scale(1,1.0)" font-size="8.7" text-anchor="start" font-weight="normal" fill="#111" stroke="#111" stroke-width="0.22" >G-CSF</text>
<circle cx="269.8" cy="226.2" r="2.85" fill="#fdf2f5" stroke="#8f1030" stroke-width="1.35"/>
<text transform="translate(276.90,228.80) scale(1,1.0)" font-size="8.7" text-anchor="start" font-weight="normal" fill="#111" stroke="#111" stroke-width="0.22" >Plerixafor</text>
<line x1="254.30" y1="262.11" x2="254.30" y2="371.20" stroke="#111" stroke-width="1.5"/>
<line x1="251.00" y1="370.50" x2="254.30" y2="370.50" stroke="#111" stroke-width="1.2"/>
<text transform="translate(247.30,373.25) scale(1,1.0)" font-size="8.5" text-anchor="end" font-weight="normal" fill="#111" stroke="#111" stroke-width="0.12" >0</text>
<line x1="251.00" y1="335.47" x2="254.30" y2="335.47" stroke="#111" stroke-width="1.2"/>
<text transform="translate(247.30,338.22) scale(1,1.0)" font-size="8.5" text-anchor="end" font-weight="normal" fill="#111" stroke="#111" stroke-width="0.12" >10</text>
<line x1="251.00" y1="300.44" x2="254.30" y2="300.44" stroke="#111" stroke-width="1.2"/>
<text transform="translate(247.30,303.19) scale(1,1.0)" font-size="8.5" text-anchor="end" font-weight="normal" fill="#111" stroke="#111" stroke-width="0.12" >20</text>
<line x1="251.00" y1="265.41" x2="254.30" y2="265.41" stroke="#111" stroke-width="1.2"/>
<text transform="translate(247.30,268.16) scale(1,1.0)" font-size="8.5" text-anchor="end" font-weight="normal" fill="#111" stroke="#111" stroke-width="0.12" >30</text>
<line x1="253.60" y1="370.50" x2="350.00" y2="370.50" stroke="#111" stroke-width="1.5"/>
<line x1="269.80" y1="370.50" x2="269.80" y2="373.90" stroke="#111" stroke-width="1.3"/>
<line x1="301.60" y1="370.50" x2="301.60" y2="373.90" stroke="#111" stroke-width="1.3"/>
<line x1="333.60" y1="370.50" x2="333.60" y2="373.90" stroke="#111" stroke-width="1.3"/>
<text transform="translate(231.40,338.07) scale(1,0.9158) rotate(-90)" font-size="10.2" fill="#111" stroke="#111" stroke-width="0.22">Ki67 MFIR</text>
<polyline points="276.4,258.8 276.4,255.8 340.0,255.8 340.0,258.8" fill="none" stroke="#111" stroke-width="1.4"/>
<circle cx="304.60" cy="250.60" r="1.35" fill="#111"/>
<circle cx="308.80" cy="250.60" r="1.35" fill="#111"/>
<circle cx="313.00" cy="250.60" r="1.35" fill="#111"/>
<polyline points="327.2,277.2 327.2,274.2 340.0,274.2 340.0,277.2" fill="none" stroke="#111" stroke-width="1.4"/>
<circle cx="331.70" cy="268.20" r="1.35" fill="#111"/>
<circle cx="335.90" cy="268.20" r="1.35" fill="#111"/>
<polyline points="276.4,285.6 276.4,282.6 307.8,282.6 307.8,285.6" fill="none" stroke="#111" stroke-width="1.4"/>
<circle cx="288.60" cy="277.40" r="1.35" fill="#111"/>
<circle cx="292.80" cy="277.40" r="1.35" fill="#111"/>
<circle cx="297.00" cy="277.40" r="1.35" fill="#111"/>
<polyline points="295.4,301.8 295.4,298.8 308.2,298.8 308.2,301.8" fill="none" stroke="#111" stroke-width="1.4"/>
<circle cx="299.40" cy="293.00" r="1.35" fill="#111"/>
<circle cx="303.60" cy="293.00" r="1.35" fill="#111"/>
<rect x="261.05" y="343.55" width="5.3" height="5.3" fill="none" stroke="#36496c" stroke-width="1.35"/>
<rect x="261.05" y="347.15" width="5.3" height="5.3" fill="none" stroke="#36496c" stroke-width="1.35"/>
<rect x="261.05" y="350.15" width="5.3" height="5.3" fill="none" stroke="#36496c" stroke-width="1.35"/>
<circle cx="276.1" cy="335.9" r="2.85" fill="#fdf2f5" stroke="#8f1030" stroke-width="1.35"/>
<circle cx="276.1" cy="345.4" r="2.85" fill="#fdf2f5" stroke="#8f1030" stroke-width="1.35"/>
<circle cx="276.1" cy="347.7" r="2.85" fill="#fdf2f5" stroke="#8f1030" stroke-width="1.35"/>
<circle cx="276.1" cy="352.8" r="2.85" fill="#fdf2f5" stroke="#8f1030" stroke-width="1.35"/>
<rect x="292.75" y="329.65" width="5.3" height="5.3" fill="none" stroke="#36496c" stroke-width="1.35"/>
<rect x="292.75" y="334.75" width="5.3" height="5.3" fill="none" stroke="#36496c" stroke-width="1.35"/>
<circle cx="303.7" cy="309.2" r="2.85" fill="#fdf2f5" stroke="#8f1030" stroke-width="1.35"/>
<circle cx="309.6" cy="313.1" r="2.85" fill="#fdf2f5" stroke="#8f1030" stroke-width="1.35"/>
<circle cx="312.6" cy="318.1" r="2.85" fill="#fdf2f5" stroke="#8f1030" stroke-width="1.35"/>
<circle cx="305.8" cy="322" r="2.85" fill="#fdf2f5" stroke="#8f1030" stroke-width="1.35"/>
<rect x="324.75" y="334.15" width="5.3" height="5.3" fill="none" stroke="#36496c" stroke-width="1.35"/>
<rect x="324.75" y="340.65" width="5.3" height="5.3" fill="none" stroke="#36496c" stroke-width="1.35"/>
<circle cx="339.9" cy="283.2" r="2.85" fill="#fdf2f5" stroke="#8f1030" stroke-width="1.35"/>
<circle cx="339.9" cy="299.5" r="2.85" fill="#fdf2f5" stroke="#8f1030" stroke-width="1.35"/>
<circle cx="343.7" cy="305.4" r="2.85" fill="#fdf2f5" stroke="#8f1030" stroke-width="1.35"/>
<circle cx="337.8" cy="313.1" r="2.85" fill="#fdf2f5" stroke="#8f1030" stroke-width="1.35"/>
<text transform="translate(254.80,389.20) scale(1,1.0)" font-size="8.9" text-anchor="end" font-weight="normal" fill="#111" stroke="#111" stroke-width="0.22" >CD34:</text>
<text transform="translate(270.20,389.90) scale(1,1.0)" font-size="8.9" text-anchor="middle" font-weight="normal" fill="#111" stroke="#111" stroke-width="0.22" >+</text>
<text transform="translate(301.50,389.90) scale(1,1.0)" font-size="8.9" text-anchor="middle" font-weight="normal" fill="#111" stroke="#111" stroke-width="0.22" >+</text>
<text transform="translate(333.20,389.90) scale(1,1.0)" font-size="8.9" text-anchor="middle" font-weight="normal" fill="#111" stroke="#111" stroke-width="0.22" >+</text>
<text transform="translate(254.80,402.30) scale(1,1.0)" font-size="8.9" text-anchor="end" font-weight="normal" fill="#111" stroke="#111" stroke-width="0.22" >CD45RA:</text>
<text transform="translate(270.20,403.00) scale(1,1.0)" font-size="8.9" text-anchor="middle" font-weight="normal" fill="#111" stroke="#111" stroke-width="0.22" >-</text>
<text transform="translate(301.50,403.00) scale(1,1.0)" font-size="8.9" text-anchor="middle" font-weight="normal" fill="#111" stroke="#111" stroke-width="0.22" >+</text>
<text transform="translate(333.20,403.00) scale(1,1.0)" font-size="8.9" text-anchor="middle" font-weight="normal" fill="#111" stroke="#111" stroke-width="0.22" >+</text>
<text transform="translate(254.80,415.80) scale(1,1.0)" font-size="8.9" text-anchor="end" font-weight="normal" fill="#111" stroke="#111" stroke-width="0.22" >CD123:</text>
<text transform="translate(270.20,416.50) scale(1,1.0)" font-size="8.9" text-anchor="middle" font-weight="normal" fill="#111" stroke="#111" stroke-width="0.22" >+/-</text>
<text transform="translate(301.50,416.50) scale(1,1.0)" font-size="8.9" text-anchor="middle" font-weight="normal" fill="#111" stroke="#111" stroke-width="0.22" >+/-</text>
<text transform="translate(333.20,416.50) scale(1,1.0)" font-size="8.9" text-anchor="middle" font-weight="normal" fill="#111" stroke="#111" stroke-width="0.22" >++</text>
<text transform="translate(254.80,429.30) scale(1,1.0)" font-size="8.9" text-anchor="end" font-weight="normal" fill="#111" stroke="#111" stroke-width="0.22" >CD303:</text>
<text transform="translate(270.20,430.00) scale(1,1.0)" font-size="8.9" text-anchor="middle" font-weight="normal" fill="#111" stroke="#111" stroke-width="0.22" >-</text>
<text transform="translate(301.50,430.00) scale(1,1.0)" font-size="8.9" text-anchor="middle" font-weight="normal" fill="#111" stroke="#111" stroke-width="0.22" >-</text>
<text transform="translate(333.20,430.00) scale(1,1.0)" font-size="8.9" text-anchor="middle" font-weight="normal" fill="#111" stroke="#111" stroke-width="0.22" >+</text>
<text transform="translate(364.70,225.60) scale(0.86,1)" font-size="14.6" font-weight="bold" fill="#000">G</text>
<line x1="412.00" y1="271.80" x2="412.00" y2="371.00" stroke="#111" stroke-width="1.5"/>
<line x1="408.70" y1="370.30" x2="412.00" y2="370.30" stroke="#111" stroke-width="1.2"/>
<text transform="translate(405.00,373.05) scale(1,1.0)" font-size="8.5" text-anchor="end" font-weight="normal" fill="#111" stroke="#111" stroke-width="0.12" >0</text>
<line x1="408.70" y1="346.50" x2="412.00" y2="346.50" stroke="#111" stroke-width="1.2"/>
<text transform="translate(405.00,349.25) scale(1,1.0)" font-size="8.5" text-anchor="end" font-weight="normal" fill="#111" stroke="#111" stroke-width="0.12" >50</text>
<line x1="408.70" y1="322.70" x2="412.00" y2="322.70" stroke="#111" stroke-width="1.2"/>
<text transform="translate(405.00,325.45) scale(1,1.0)" font-size="8.5" text-anchor="end" font-weight="normal" fill="#111" stroke="#111" stroke-width="0.12" >100</text>
<line x1="408.70" y1="298.90" x2="412.00" y2="298.90" stroke="#111" stroke-width="1.2"/>
<text transform="translate(405.00,301.65) scale(1,1.0)" font-size="8.5" text-anchor="end" font-weight="normal" fill="#111" stroke="#111" stroke-width="0.12" >150</text>
<line x1="408.70" y1="275.10" x2="412.00" y2="275.10" stroke="#111" stroke-width="1.2"/>
<text transform="translate(405.00,277.85) scale(1,1.0)" font-size="8.5" text-anchor="end" font-weight="normal" fill="#111" stroke="#111" stroke-width="0.12" >200</text>
<line x1="411.30" y1="370.30" x2="467.70" y2="370.30" stroke="#111" stroke-width="1.5"/>
<line x1="421.10" y1="370.30" x2="421.10" y2="373.70" stroke="#111" stroke-width="1.3"/>
<line x1="439.70" y1="370.30" x2="439.70" y2="373.70" stroke="#111" stroke-width="1.3"/>
<line x1="457.50" y1="370.30" x2="457.50" y2="373.70" stroke="#111" stroke-width="1.3"/>
<text transform="translate(383.80,342.93) scale(1,0.8918) rotate(-90)" font-size="9.9" fill="#111" stroke="#111" stroke-width="0.22">No. CFU-C</text>
<line x1="421.80" y1="276.80" x2="457.90" y2="276.80" stroke="#111" stroke-width="1.4"/>
<circle cx="437.50" cy="271.00" r="1.35" fill="#111"/>
<circle cx="441.70" cy="271.00" r="1.35" fill="#111"/>
<line x1="440.40" y1="289.60" x2="457.90" y2="289.60" stroke="#111" stroke-width="1.4"/>
<circle cx="447.20" cy="284.10" r="1.35" fill="#111"/>
<circle cx="451.40" cy="284.10" r="1.35" fill="#111"/>
<circle cx="417.7" cy="322.9" r="2.85" fill="#fdf2f5" stroke="#8f1030" stroke-width="1.35"/>
<circle cx="424" cy="326.4" r="2.85" fill="#fdf2f5" stroke="#8f1030" stroke-width="1.35"/>
<circle cx="424" cy="346.9" r="2.85" fill="#fdf2f5" stroke="#8f1030" stroke-width="1.35"/>
<circle cx="417.7" cy="350.2" r="2.85" fill="#fdf2f5" stroke="#8f1030" stroke-width="1.35"/>
<line x1="414.80" y1="337.10" x2="427.20" y2="337.10" stroke="#111" stroke-width="1.2"/>
<line x1="421.00" y1="329.70" x2="421.00" y2="343.90" stroke="#111" stroke-width="1.2"/>
<line x1="417.80" y1="329.70" x2="424.20" y2="329.70" stroke="#111" stroke-width="1.2"/>
<line x1="417.80" y1="343.90" x2="424.20" y2="343.90" stroke="#111" stroke-width="1.2"/>
<rect x="436.95" y="294.35" width="5.3" height="5.3" fill="none" stroke="#8f1030" stroke-width="1.35"/>
<rect x="436.95" y="313.65" width="5.3" height="5.3" fill="none" stroke="#8f1030" stroke-width="1.35"/>
<rect x="436.95" y="331.95" width="5.3" height="5.3" fill="none" stroke="#8f1030" stroke-width="1.35"/>
<rect x="436.95" y="349.65" width="5.3" height="5.3" fill="none" stroke="#8f1030" stroke-width="1.35"/>
<line x1="433.80" y1="324.80" x2="445.40" y2="324.80" stroke="#111" stroke-width="1.2"/>
<line x1="439.60" y1="315.50" x2="439.60" y2="334.40" stroke="#111" stroke-width="1.2"/>
<line x1="436.40" y1="315.50" x2="442.80" y2="315.50" stroke="#111" stroke-width="1.2"/>
<line x1="436.40" y1="334.40" x2="442.80" y2="334.40" stroke="#111" stroke-width="1.2"/>
<polygon points="453.60,367.80 456.10,372.13 451.10,372.13" fill="#c05070" stroke="#8f1030" stroke-width="1.2" stroke-linejoin="miter"/>
<polygon points="456.60,367.80 459.10,372.13 454.10,372.13" fill="#c05070" stroke="#8f1030" stroke-width="1.2" stroke-linejoin="miter"/>
<polygon points="459.60,367.80 462.10,372.13 457.10,372.13" fill="#c05070" stroke="#8f1030" stroke-width="1.2" stroke-linejoin="miter"/>
<polygon points="462.60,367.80 465.10,372.13 460.10,372.13" fill="#c05070" stroke="#8f1030" stroke-width="1.2" stroke-linejoin="miter"/>
<text transform="translate(412.20,389.30) scale(1,1.0)" font-size="8.9" text-anchor="end" font-weight="normal" fill="#111" stroke="#111" stroke-width="0.22" >CD34:</text>
<text transform="translate(421.20,390.00) scale(1,1.0)" font-size="8.9" text-anchor="middle" font-weight="normal" fill="#111" stroke="#111" stroke-width="0.22" >+</text>
<text transform="translate(439.50,390.00) scale(1,1.0)" font-size="8.9" text-anchor="middle" font-weight="normal" fill="#111" stroke="#111" stroke-width="0.22" >+</text>
<text transform="translate(457.80,390.00) scale(1,1.0)" font-size="8.9" text-anchor="middle" font-weight="normal" fill="#111" stroke="#111" stroke-width="0.22" >+</text>
<text transform="translate(412.20,402.40) scale(1,1.0)" font-size="8.9" text-anchor="end" font-weight="normal" fill="#111" stroke="#111" stroke-width="0.22" >CD45RA:</text>
<text transform="translate(439.50,403.10) scale(1,1.0)" font-size="8.9" text-anchor="middle" font-weight="normal" fill="#111" stroke="#111" stroke-width="0.22" >-</text>
<text transform="translate(457.80,403.10) scale(1,1.0)" font-size="8.9" text-anchor="middle" font-weight="normal" fill="#111" stroke="#111" stroke-width="0.22" >+</text>
<text transform="translate(412.20,416.00) scale(1,1.0)" font-size="8.9" text-anchor="end" font-weight="normal" fill="#111" stroke="#111" stroke-width="0.22" >CD123:</text>
<text transform="translate(439.50,416.70) scale(1,1.0)" font-size="8.9" text-anchor="middle" font-weight="normal" fill="#111" stroke="#111" stroke-width="0.22" >+/-</text>
<text transform="translate(457.80,416.70) scale(1,1.0)" font-size="8.9" text-anchor="middle" font-weight="normal" fill="#111" stroke="#111" stroke-width="0.22" >++</text>
<text transform="translate(412.20,429.30) scale(1,1.0)" font-size="8.9" text-anchor="end" font-weight="normal" fill="#111" stroke="#111" stroke-width="0.22" >CD303:</text>
<text transform="translate(439.50,430.00) scale(1,1.0)" font-size="8.9" text-anchor="middle" font-weight="normal" fill="#111" stroke="#111" stroke-width="0.22" >-</text>
<text transform="translate(457.80,430.00) scale(1,1.0)" font-size="8.9" text-anchor="middle" font-weight="normal" fill="#111" stroke="#111" stroke-width="0.22" >+</text>
</g>
<rect x="0" y="0" width="520" height="1" fill="#000"/>
<rect x="0" y="1" width="520" height="1" fill="#888"/>
<rect x="0" y="0" width="1" height="439" fill="#000"/>
<rect x="1" y="0" width="1" height="439" fill="#888"/>
<rect x="518" y="0" width="2" height="439" fill="#000"/>
<rect x="0" y="437" width="520" height="2" fill="#000"/>
<rect x="0" y="436" width="518" height="1" fill="#e4e4e4"/>
</svg>
</body></html>
